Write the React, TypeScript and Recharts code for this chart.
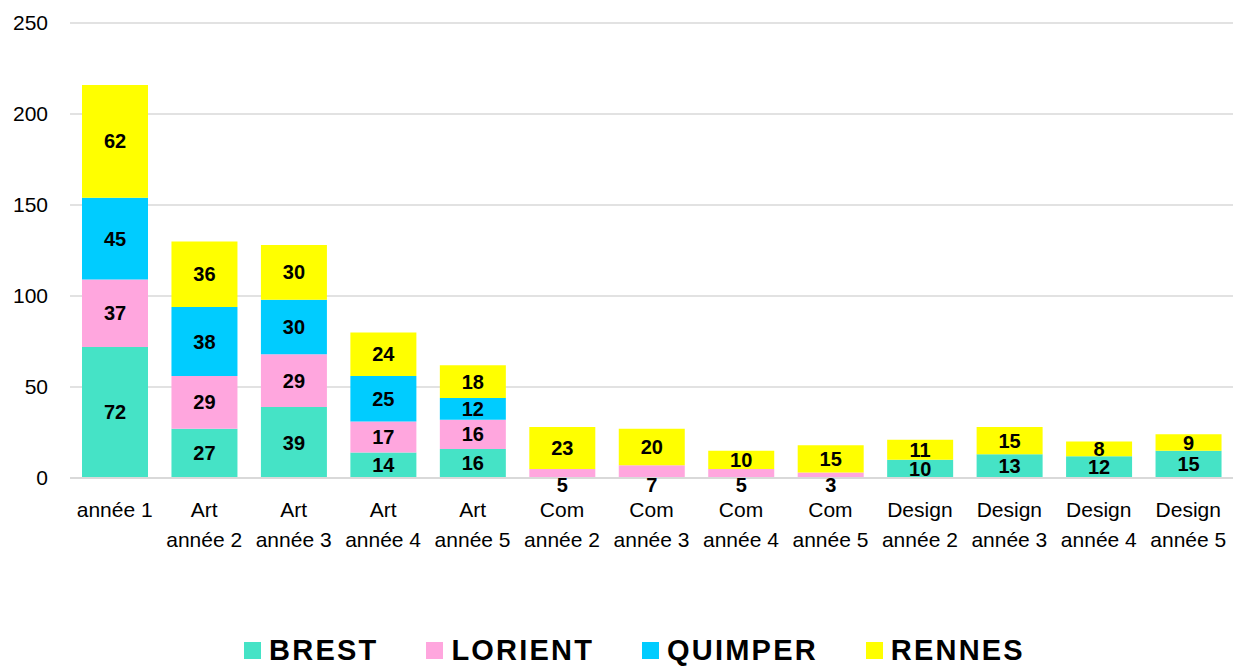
import React from 'react';
import { BarChart, Bar, XAxis, YAxis, CartesianGrid, Legend, LabelList } from 'recharts';

const categories = [
  'année 1',
  'Art\nannée 2',
  'Art\nannée 3',
  'Art\nannée 4',
  'Art\nannée 5',
  'Com\nannée 2',
  'Com\nannée 3',
  'Com\nannée 4',
  'Com\nannée 5',
  'Design\nannée 2',
  'Design\nannée 3',
  'Design\nannée 4',
  'Design\nannée 5',
];
const brest = [72, 27, 39, 14, 16, 0, 0, 0, 0, 10, 13, 12, 15];
const lorient = [37, 29, 29, 17, 16, 5, 7, 5, 3, 0, 0, 0, 0];
const quimper = [45, 38, 30, 25, 12, 0, 0, 0, 0, 0, 0, 0, 0];
const rennes = [62, 36, 30, 24, 18, 23, 20, 10, 15, 11, 15, 8, 9];
const yTicks = [0, 50, 100, 150, 200, 250];

const series = [
  { key: 'BREST', values: brest, color: '#45E3C6' },
  { key: 'LORIENT', values: lorient, color: '#FFA6DE' },
  { key: 'QUIMPER', values: quimper, color: '#00CCFF' },
  { key: 'RENNES', values: rennes, color: '#FFFF00' },
];

const data = categories.map((c, i) => {
  const row: any = { name: c };
  series.forEach((s) => {
    row[s.key] = s.values[i];
  });
  return row;
});

const FONT = '"Liberation Sans", Arial, sans-serif';

const makeLabel = (below: boolean) => (props: any) => {
  const { x, y, width, height, value } = props;
  if (!value) return null;
  let cy = y + height / 2;
  if (below && height < 16) cy = y + height + 7;
  return (
    <text
      x={x + width / 2}
      y={cy}
      textAnchor="middle"
      dominantBaseline="central"
      fontFamily={FONT}
      fontWeight="bold"
      fontSize={20}
      fill="#000"
    >
      {value}
    </text>
  );
};

const XTick = (props: any) => {
  const { x, y, payload } = props;
  const lines = String(payload.value).split('\n');
  return (
    <g>
      {lines.map((l: string, i: number) => (
        <text
          key={i}
          x={x}
          y={y + 31 + i * 30}
          textAnchor="middle"
          fontFamily={FONT}
          fontSize={21}
          fill="#000"
        >
          {l}
        </text>
      ))}
    </g>
  );
};

const LegendContent = () => (
  <div
    style={{
      display: 'flex',
      justifyContent: 'center',
      gap: 48,
      paddingLeft: 36,
      fontFamily: FONT,
      fontWeight: 'bold',
      fontSize: 29,
      letterSpacing: 2.2,
      color: '#000',
      lineHeight: '30px',
    }}
  >
    {series.map((s) => (
      <div key={s.key} style={{ display: 'flex', alignItems: 'center' }}>
        <div style={{ width: 17, height: 17, background: s.color, marginRight: 8 }} />
        <span>{s.key}</span>
      </div>
    ))}
  </div>
);

export default function App() {
  return (
    <div style={{ position: 'absolute', left: 0, top: 0, width: 1236, height: 667, background: '#fff' }}>
      <BarChart
        width={1236}
        height={667}
        data={data}
        margin={{ top: 23, right: 3, left: 0, bottom: 0 }}
        barCategoryGap="26%"
        barSize={66}
      >
        <CartesianGrid vertical={false} stroke="#d9d9d9" strokeWidth={1.5} />
        <XAxis
          dataKey="name"
          interval={0}
          tickLine={false}
          axisLine={{ stroke: '#d9d9d9', strokeWidth: 2 }}
          height={149}
          tick={<XTick />}
        />
        <YAxis
          domain={[0, 250]}
          ticks={yTicks}
          width={70}
          tickLine={false}
          axisLine={false}
          tickSize={0}
          tickMargin={22}
          tick={{ fontFamily: FONT, fontSize: 21, fill: '#000' }}
        />
        <Legend
          verticalAlign="bottom"
          content={<LegendContent />}
          wrapperStyle={{ height: 40, bottom: -8 }}
        />
        {series.map((s) => (
          <Bar key={s.key} dataKey={s.key} stackId="a" fill={s.color} isAnimationActive={false}>
            <LabelList dataKey={s.key} content={makeLabel(s.key === 'LORIENT')} />
          </Bar>
        ))}
      </BarChart>
    </div>
  );
}
